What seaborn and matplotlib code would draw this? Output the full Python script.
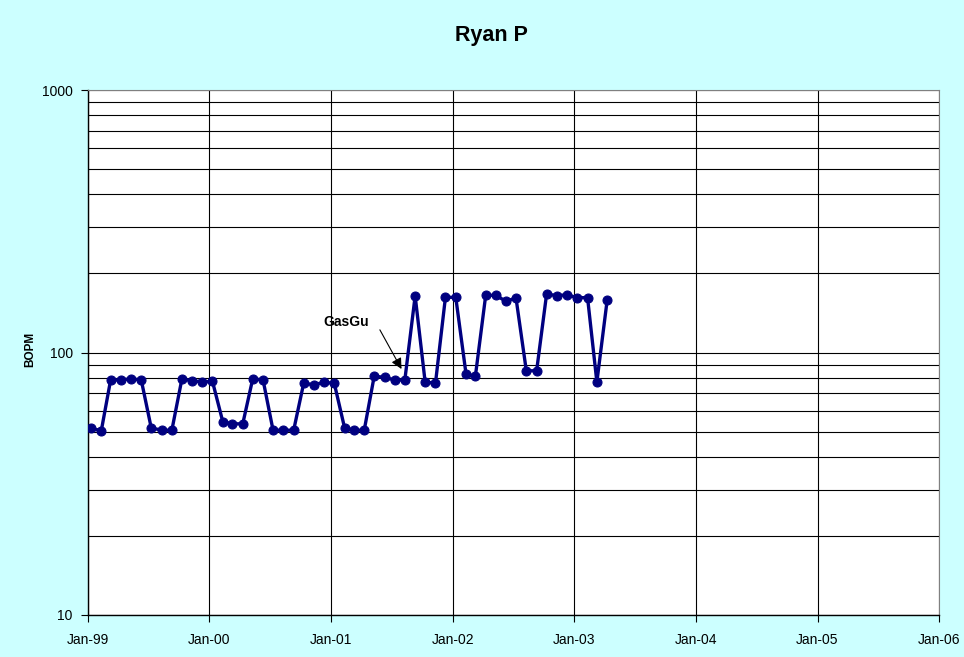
import matplotlib
matplotlib.use("Agg")
import matplotlib.pyplot as plt
import matplotlib.dates as mdates
import matplotlib.ticker as mticker
import numpy as np
import pandas as pd
import seaborn as sns

# ---- data ----
first_month = "1999-01-01"
bopm = [51.4, 50.4, 78.6, 78.6, 79.4, 78.6, 51.6, 50.6, 50.6, 79.1, 78.2, 77.2,
        77.6, 54.5, 53.5, 53.5, 79.4, 78.6, 50.6, 50.6, 50.6, 76.3, 75.4, 77.0,
        76.3, 51.6, 50.6, 50.6, 81.3, 80.4, 78.6, 78.6, 164.2, 77.2, 76.3, 162.3,
        162.3, 82.6, 81.3, 165.2, 165.2, 156.7, 161.4, 85.2, 85.2, 167.1, 164.6, 166.0,
        161.8, 161.8, 77.2, 158.5]
dates = pd.date_range(first_month, periods=len(bopm), freq="MS") + pd.Timedelta(days=9)
year_ticks = pd.to_datetime(["1999-01-01", "2000-01-01", "2001-01-01", "2002-01-01",
                             "2003-01-01", "2004-01-01", "2005-01-01", "2006-01-01"])
y_ticks = [10, 100, 1000]
title = "Ryan P"
ylabel = "BOPM"
note = "GasGu"

df = pd.DataFrame({"date": dates, "BOPM": bopm})

sns.set_theme(style="white")
plt.rcParams["font.family"] = ["Liberation Sans", "DejaVu Sans"]
plt.rcParams["text.color"] = "black"

bg = "#CCFFFF"
fig = plt.figure(figsize=(9.64, 6.57), dpi=100, facecolor=bg)
ax = fig.add_axes([88/964, 1 - 615/657, (939-88)/964, (615-90)/657])
ax.set_facecolor("white")

sns.lineplot(data=df, x="date", y="BOPM", ax=ax, color="#000080", lw=2.4,
             marker="o", markersize=6.5, markeredgecolor="#000080", zorder=5)

ax.set_yscale("log")
ax.set_ylim(10, 1000)
ax.set_xlim(year_ticks[0], year_ticks[-1])

ax.yaxis.set_major_locator(mticker.FixedLocator(y_ticks))
ax.yaxis.set_major_formatter(mticker.FixedFormatter([str(v) for v in y_ticks]))
ax.yaxis.set_minor_locator(mticker.LogLocator(base=10, subs=np.arange(2, 10)))
ax.yaxis.set_minor_formatter(mticker.NullFormatter())
ax.set_xticks(year_ticks)
ax.xaxis.set_major_formatter(mdates.DateFormatter("%b-%y"))

ax.grid(True, which="major", axis="both", color="black", lw=0.8)
ax.grid(True, which="minor", axis="y", color="black", lw=0.8)
ax.set_axisbelow(True)

ax.tick_params(axis="both", which="major", direction="out", length=5, width=0.8,
               color="black", labelsize=10, labelcolor="black", pad=6)
ax.tick_params(axis="x", pad=8)
ax.tick_params(axis="y", which="minor", length=0)
ax.tick_params(axis="both", left=True, bottom=True)

for side in ["left", "bottom"]:
    ax.spines[side].set_color("black")
    ax.spines[side].set_linewidth(1.0)
for side in ["top", "right"]:
    ax.spines[side].set_color("#808080")
    ax.spines[side].set_linewidth(0.8)

ax.set_xlabel("")
ax.set_ylabel("")

fig.text(491/964, 1 - 36/657, title, ha="center", va="center",
         fontsize=15.5, fontweight="bold", color="black")
fig.text(30/964, 1 - 349/657, ylabel, ha="center", va="center", rotation=90,
         fontsize=8.5, fontweight="bold", color="black")

ax.text(pd.Timestamp("2001-02-16"), 131, note, ha="center", va="center",
        fontsize=10, fontweight="bold", color="black", zorder=6)
ax.annotate("", xy=(pd.Timestamp("2001-07-31"), 86.5),
            xytext=(pd.Timestamp("2001-05-27"), 122),
            arrowprops=dict(arrowstyle="-|>", color="black", lw=0.8,
                            mutation_scale=16, shrinkA=0, shrinkB=0), zorder=6)

fig.savefig("out.png", dpi=100, facecolor=bg)
